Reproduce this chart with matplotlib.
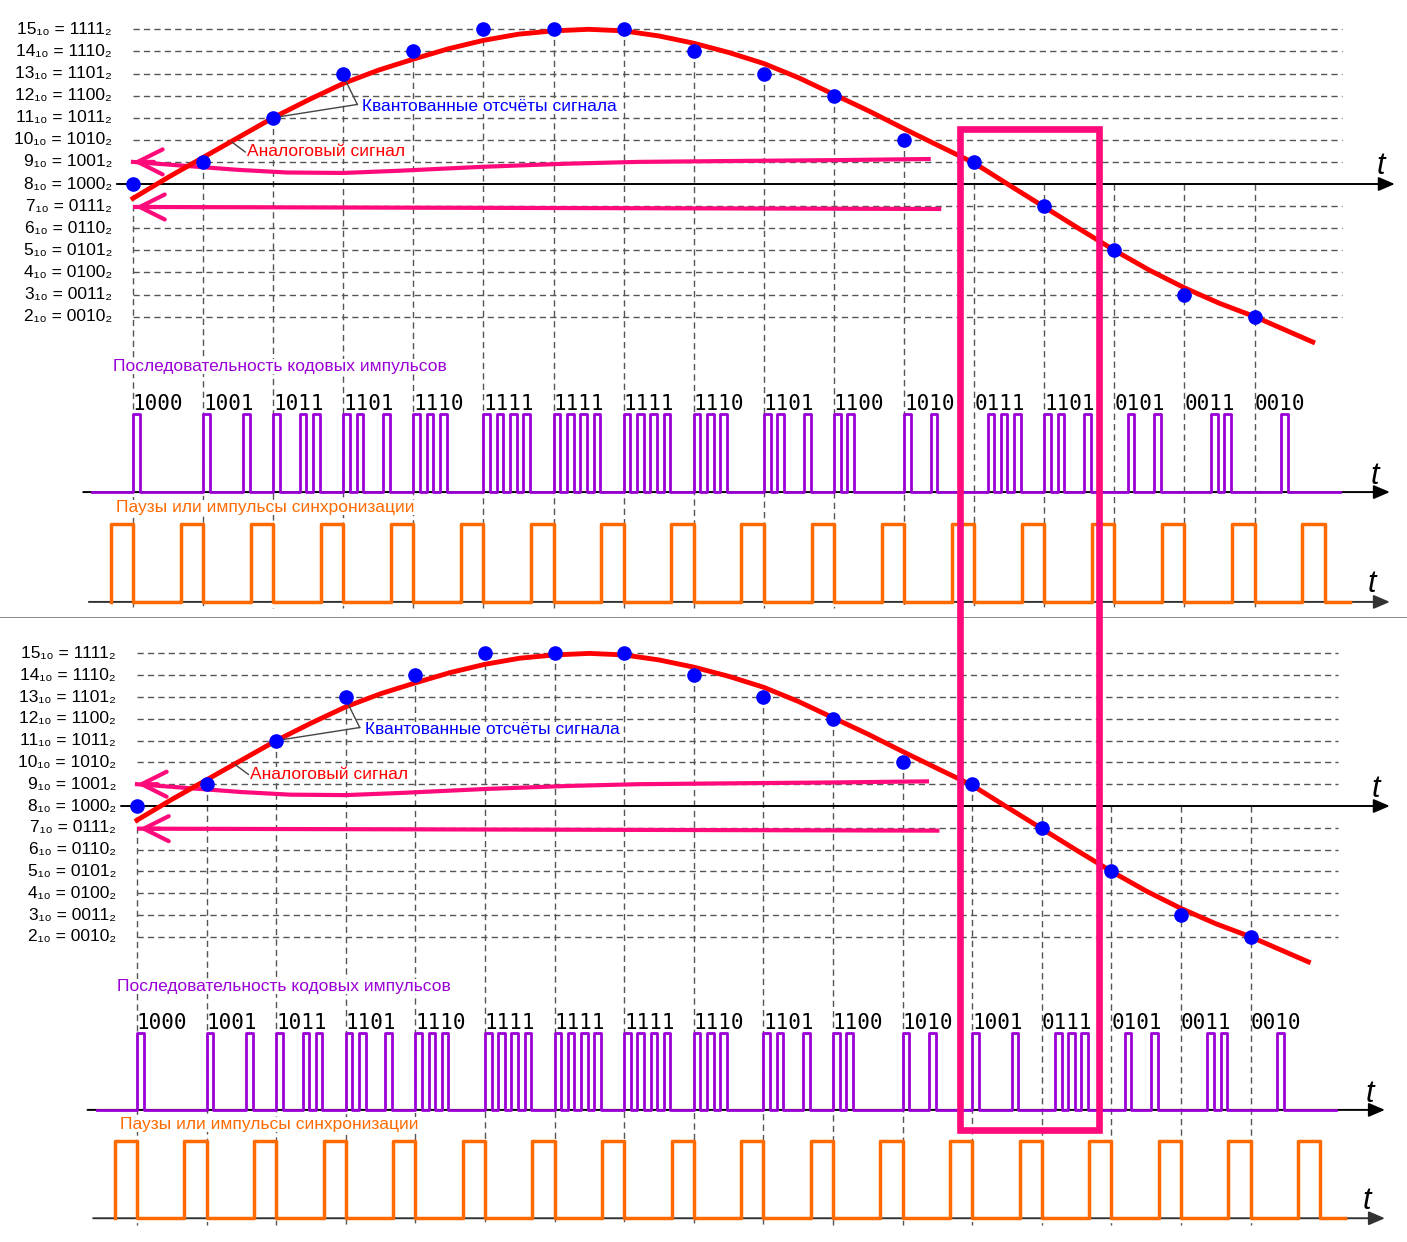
import matplotlib
matplotlib.use('Agg')
import matplotlib.pyplot as plt
from matplotlib.patches import Rectangle

plt.rcParams['font.family'] = ['Liberation Sans', 'DejaVu Sans']

# уровни квантования и их двоичные коды
levels = [15, 14, 13, 12, 11, 10, 9, 8, 7, 6, 5, 4, 3, 2]
level_dec = ['15₁₀', '14₁₀', '13₁₀', '12₁₀', '11₁₀', '10₁₀', '9₁₀',
             '8₁₀', '7₁₀', '6₁₀', '5₁₀', '4₁₀', '3₁₀', '2₁₀']
level_bin = ['1111₂', '1110₂', '1101₂', '1100₂', '1011₂', '1010₂', '1001₂',
             '1000₂', '0111₂', '0110₂', '0101₂', '0100₂', '0011₂', '0010₂']

# квантованные отсчёты
samples = [8, 9, 11, 13, 14, 15, 15, 15, 14, 13, 12, 10, 9, 7, 5, 3, 2]
codes_top = ['1000', '1001', '1011', '1101', '1110', '1111', '1111', '1111', '1110',
             '1101', '1100', '1010', '0111', '1101', '0101', '0011', '0010']
codes_bot = ['1000', '1001', '1011', '1101', '1110', '1111', '1111', '1111', '1110',
             '1101', '1100', '1010', '1001', '0111', '0101', '0011', '0010']

# аналоговый сигнал
curve_t = [0, 0.5, 1, 1.5, 2, 2.5, 3, 3.5, 4, 4.5, 5, 5.5, 6, 6.5, 7, 7.5, 8,
           8.5, 9, 9.5, 10, 10.5, 11, 11.5, 12, 12.5, 13, 13.5, 14, 14.5, 15,
           15.5, 16, 16.83]
curve_v = [7.35, 8.3, 9.2, 10.1, 11.0, 11.8, 12.55, 13.15, 13.65, 14.12, 14.5,
           14.78, 14.93, 15.0, 14.93, 14.7, 14.37, 13.95, 13.45, 12.8, 12.05,
           11.3, 10.5, 9.72, 8.95, 7.95, 6.96, 5.97, 5.0, 4.1, 3.3, 2.6, 2.0, 0.85]

# розовые стрелки
arrow1_t = [0, 0.5, 1.0, 1.5, 2.2, 3.0, 3.8, 5.0, 6.2, 7.2, 8.5, 10.0, 11.35]
arrow1_v = [9.0, 8.88, 8.76, 8.64, 8.52, 8.5, 8.6, 8.78, 8.92, 9.0, 9.04, 9.08, 9.13]
arrow2_t = [0.03, 11.5]
arrow2_v = [6.96, 6.87]

# рамка выделения
box_t = [11.8, 13.78]
box_top = 10.5
box_bottom = -6.86

RED = '#ff0000'
BLUE = '#0000ff'
PINK = '#ff0a7a'
PURPLE = '#9a00d6'
ORANGE = '#ff6a00'
GRID = '#555555'

bit_pitch = 0.19
bit_width = 0.095
pulse_base, pulse_top = -5.94, -2.41
sync_base, sync_top = -10.91, -7.38
sync_width = 0.32


def pulse_path(starts, width, base, top, x0, x1):
    xs, ys = [x0], [base]
    for s in starts:
        xs += [s, s, s + width, s + width]
        ys += [base, top, top, base]
    xs.append(x1)
    ys.append(base)
    return xs, ys


def axis_arrow(ax, x0, x1, y, color='black'):
    ax.annotate('', xy=(x1, y), xytext=(x0, y),
                arrowprops=dict(arrowstyle='-|>,head_length=0.7,head_width=0.3',
                                mutation_scale=14, lw=1.4, color=color,
                                shrinkA=0, shrinkB=0), zorder=2)


def open_head(ax, t, v):
    ax.annotate('', xy=(t[0], v[0]), xytext=(t[0] + 0.3, v[0]),
                arrowprops=dict(arrowstyle='->,head_length=0.9,head_width=0.45',
                                mutation_scale=20, lw=3, color=PINK,
                                shrinkA=0, shrinkB=0), zorder=3)


def draw_panel(ax, codes):
    n = len(samples)
    # сетка
    for v in levels:
        if v != 8:
            ax.plot([0, 17.25], [v, v], color=GRID, lw=1, dashes=(4.5, 3), zorder=1)
    for k, v in enumerate(samples):
        ax.plot([k, k], [max(v, 8), -11.2], color=GRID, lw=1, dashes=(4.5, 3), zorder=1)
    axis_arrow(ax, -0.23, 18.0, 8)
    ax.text(17.8, 8.8, 't', fontsize=22, style='italic', ha='center', va='center')

    for v, d, b in zip(levels, level_dec, level_bin):
        ax.text(-0.3, v, f'{d} = {b}', fontsize=12.5, ha='right', va='center')

    # стрелки
    ax.plot(arrow1_t, arrow1_v, color=PINK, lw=3, zorder=3)
    ax.plot(arrow2_t, arrow2_v, color=PINK, lw=3, zorder=3)
    open_head(ax, arrow1_t, arrow1_v)
    open_head(ax, arrow2_t, arrow2_v)

    ax.plot(curve_t, curve_v, color=RED, lw=3.5, zorder=4)
    ax.plot(range(n), samples, 'o', color=BLUE, ms=9.5, zorder=5)

    # подписи
    ax.plot([3.2, 2.0], [11.6, 11.0], color='#444444', lw=1, zorder=4.5)
    ax.plot([3.2, 3.0], [11.6, 12.9], color='#444444', lw=1, zorder=4.5)
    ax.text(3.27, 11.5, 'Квантованные отсчёты сигнала', color=BLUE, fontsize=12.5,
            ha='left', va='center', zorder=6,
            bbox=dict(facecolor='white', edgecolor='none', pad=0))
    ax.plot([1.6, 1.41], [9.45, 9.9], color='#444444', lw=1, zorder=4.5)
    ax.text(1.63, 9.45, 'Аналоговый сигнал', color=RED, fontsize=12.5,
            ha='left', va='center', zorder=6,
            bbox=dict(facecolor='white', edgecolor='none', pad=0))

    # кодовые импульсы
    ax.text(-0.285, -0.28, 'Последовательность кодовых импульсов', color=PURPLE,
            fontsize=12.5, ha='left', va='center', zorder=6,
            bbox=dict(facecolor='white', edgecolor='none', pad=0))
    for k, c in enumerate(codes):
        ax.text(k, -1.95, c, family='DejaVu Sans Mono', fontsize=15,
                ha='left', va='center', zorder=6)
    starts = [k + j * bit_pitch for k, c in enumerate(codes)
              for j, b in enumerate(c) if b == '1']
    xs, ys = pulse_path(starts, bit_width, pulse_base, pulse_top, -0.58, 17.22)
    axis_arrow(ax, -0.71, 17.93, pulse_base)
    ax.plot(xs, ys, color=PURPLE, lw=2, zorder=3)
    ax.text(17.72, -5.2, 't', fontsize=22, style='italic', ha='center', va='center')

    # синхроимпульсы
    ax.text(-0.24, -6.62, 'Паузы или импульсы синхронизации', color=ORANGE,
            fontsize=12.5, ha='left', va='center', zorder=6,
            bbox=dict(facecolor='white', edgecolor='none', pad=0))
    sync_starts = [k - sync_width for k in range(n + 1)]
    xs, ys = pulse_path(sync_starts, sync_width, sync_base, sync_top,
                        -sync_width, 17.36)
    axis_arrow(ax, -0.63, 17.93, sync_base, color='#333333')
    ax.plot(xs, ys, color=ORANGE, lw=2.5, zorder=3)
    ax.text(17.67, -10.1, 't', fontsize=22, style='italic', ha='center', va='center')


fig = plt.figure(figsize=(14.07, 12.42), dpi=100)
ax_top = fig.add_axes([0, 624 / 1242, 1, 618 / 1242])
ax_bot = fig.add_axes([0, 0, 1, 624 / 1242])

ax_top.set_xlim(-1.897, 18.174)
ax_top.set_ylim(-11.638, 16.326)
ax_bot.set_xlim(-1.968, 18.247)
ax_bot.set_ylim(-12.0, 16.624)

for ax in (ax_top, ax_bot):
    ax.set_xticks([])
    ax.set_yticks([])
    for s in ax.spines.values():
        s.set_visible(False)
ax_top.spines['bottom'].set_visible(True)
ax_top.spines['bottom'].set_color('#777777')
ax_top.spines['bottom'].set_linewidth(1.2)

draw_panel(ax_top, codes_top)
draw_panel(ax_bot, codes_bot)

# рамка через обе панели
inv = fig.transFigure.inverted()
x1, y1 = inv.transform(ax_top.transData.transform((box_t[0], box_top)))
x2, _ = inv.transform(ax_top.transData.transform((box_t[1], box_top)))
_, y2 = inv.transform(ax_bot.transData.transform((box_t[1], box_bottom)))
fig.add_artist(Rectangle((x1, y2), x2 - x1, y1 - y2, transform=fig.transFigure,
                         fill=False, edgecolor=PINK, lw=4.8, zorder=10))

fig.savefig('out.png', dpi=100)
